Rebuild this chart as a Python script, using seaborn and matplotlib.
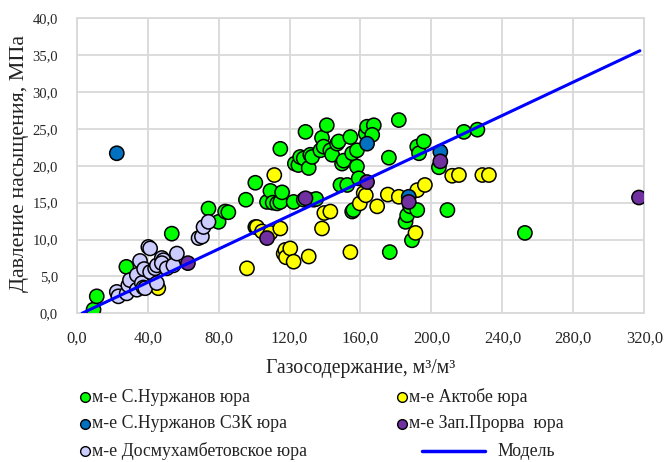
import matplotlib
matplotlib.use("Agg")
import matplotlib.pyplot as plt
from matplotlib.lines import Line2D
import seaborn as sns
import pandas as pd

# ---- data ----
green_x = [9.5, 11.3, 28, 53.6, 74.3, 80, 83.7, 85.5, 95.4, 100.7, 100.7, 107.3, 109.2, 110.5, 113,
           114.8, 115.8, 114.8, 122.3, 123, 125, 126, 128, 128, 129, 130.8, 131.7, 132.7, 133.6, 135,
           137.4, 138.3, 139.2, 141, 143, 144, 146.8, 147.7, 148.7, 149.6, 150.5, 152.5, 154.3, 155.3,
           155.3, 156, 158, 158, 159, 163, 163.7, 167.5, 166.6, 176, 176.5, 181.6, 185.4, 186.3, 188,
           189, 192, 192, 193, 195.7, 204.2, 209, 218.3, 225.9, 252.7]
green_y = [0.5, 2.3, 6.3, 10.8, 14.2, 12.4, 13.8, 13.7, 15.4, 17.7, 11.7, 15.1, 16.6, 15.0, 14.9,
           15.1, 16.4, 22.3, 15.1, 20.3, 20.1, 21.2, 21.0, 15.4, 24.6, 19.7, 21.5, 21.2, 15.4, 15.5,
           22.1, 23.8, 22.6, 25.5, 22.1, 21.5, 23.0, 23.3, 17.4, 20.3, 20.7, 17.4, 23.9, 21.7,
           13.8, 14.0, 22.1, 19.9, 18.3, 24.4, 25.3, 25.5, 24.2, 21.1, 8.3, 26.2, 12.4, 13.3, 14.5,
           9.9, 14.0, 22.6, 21.7, 23.3, 19.8, 14.0, 24.6, 24.9, 10.9]

yellow_x = [44, 46, 96, 101.6, 104.5, 109.2, 111.4, 114.8, 116.7, 117.6, 118, 120.4, 122.3, 130.8,
            138.3, 139.6, 143, 154.3, 159.6, 161.8, 163, 169.4, 175.4, 181.6, 191, 192, 196.3,
            211.7, 215.5, 228.7, 232.4]
yellow_y = [4.0, 3.4, 6.1, 11.7, 11.1, 10.9, 18.75, 11.5, 8.1, 8.6, 7.6, 8.8, 7.0, 7.7,
            11.5, 13.6, 13.8, 8.3, 14.9, 16.3, 16.0, 14.5, 16.1, 15.8, 10.9, 16.7, 17.4,
            18.65, 18.75, 18.75, 18.75]

blue_x = [22.6, 163.7, 205, 187.2]
blue_y = [21.7, 23.0, 21.9, 15.8]

purple_x = [62.7, 107.3, 129, 163.7, 205, 187.2, 317]
purple_y = [6.8, 10.2, 15.6, 17.8, 20.6, 15.1, 15.7]

lav_x = [22.6, 23.5, 28.2, 29.1, 30, 33.9, 33.9, 35.7, 36.7, 37.6, 38.6, 38, 40.4, 41.4, 41.4, 44.2,
         45.2, 45.2, 48, 48.9, 48, 50.8, 54.5, 56.5, 68.7, 70.6, 71.5, 74.3]
lav_y = [2.9, 2.3, 2.7, 3.8, 4.5, 3.2, 5.2, 7.1, 4.1, 3.5, 3.4, 6.0, 9.0, 8.8, 5.6, 6.1,
         4.1, 6.5, 7.5, 7.2, 6.8, 6.1, 6.5, 8.1, 10.2, 10.4, 11.7, 12.4]

model_x = [3, 317.5]
model_y = [0.0, 35.6]

series_names = ["м-е С.Нуржанов юра", "м-е Актобе юра", "м-е С.Нуржанов СЗК юра",
                "м-е Зап.Прорва  юра", "м-е Досмухамбетовское юра"]
series_colors = ["#00FF00", "#FFFF00", "#0070C0", "#7030A0", "#CCCCFF"]
model_name = "Модель"

x_ticks = [0, 40, 80, 120, 160, 200, 240, 280, 320]
y_ticks = [0, 5, 10, 15, 20, 25, 30, 35, 40]
x_label = "Газосодержание, м³/м³"
y_label = "Давление насыщения, МПа"

# ---- build frame ----
xs = [green_x, yellow_x, blue_x, purple_x, lav_x]
ys = [green_y, yellow_y, blue_y, purple_y, lav_y]
frames = [pd.DataFrame({"x": a, "y": b, "s": n}) for a, b, n in zip(xs, ys, series_names)]
df = pd.concat(frames, ignore_index=True)

sns.set_theme(style="white")
plt.rcParams["font.family"] = ["Liberation Serif", "DejaVu Serif"]

W, H = 666, 462
fig = plt.figure(figsize=(W / 100, H / 100), dpi=100)
ax = fig.add_axes([76.7 / W, 1 - 313.3 / H, (644.3 - 76.7) / W, (313.3 - 18.3) / H])

sns.scatterplot(data=df, x="x", y="y", hue="s", hue_order=series_names,
                palette=dict(zip(series_names, series_colors)), s=105,
                edgecolor="black", linewidth=1.1, legend=False, ax=ax, zorder=3)
sns.lineplot(x=model_x, y=model_y, color="#0000FF", linewidth=2.2, ax=ax, zorder=4)

ax.set_xlabel("")
ax.set_ylabel("")
ax.set_xlim(0, 320)
ax.set_ylim(0, 40)
ax.set_xticks(x_ticks)
ax.set_yticks(y_ticks)
ax.set_xticklabels([f"{v:.1f}".replace(".", ",") for v in x_ticks], fontsize=12)
ax.set_yticklabels([f"{v:.1f}".replace(".", ",") for v in y_ticks], fontsize=10.5)
ax.tick_params(axis="x", length=0, pad=12.5)
ax.tick_params(axis="y", length=0, pad=13.5)
ax.grid(True, color="#D9D9D9", linewidth=1.3, zorder=0)
ax.set_axisbelow(True)
for sp in ax.spines.values():
    sp.set_color("#D9D9D9")
    sp.set_linewidth(1.3)

def fx(px):
    return px / W

def fy(py):
    return 1 - py / H

renderer = fig.canvas.get_renderer()

def fit(t, target, vertical=False):
    bb = t.get_window_extent(renderer)
    cur = bb.height if vertical else bb.width
    t.set_fontsize(t.get_fontsize() * target / cur)

xl = fig.text(fx(361), fy(368), x_label, ha="center", va="center", fontsize=14, color="#222222")
fit(xl, 190)
yl = fig.text(fx(20), fy(163), y_label, ha="center", va="center", rotation=90, fontsize=15,
              color="#222222")
fit(yl, 258, vertical=True)

rows = [397, 424, 451]
left_entries = [(0, rows[0]), (2, rows[1]), (4, rows[2])]
right_entries = [(1, rows[0]), (3, rows[1])]
leg_texts = []
for idx, ry in left_entries:
    fig.add_artist(Line2D([fx(85)], [fy(ry)], marker="o", linestyle="none",
                          markerfacecolor=series_colors[idx], markeredgecolor="black",
                          markeredgewidth=1.0, markersize=7, transform=fig.transFigure))
    leg_texts.append(fig.text(fx(92), fy(ry), series_names[idx], ha="left", va="center",
                              fontsize=13, color="#222222"))
for idx, ry in right_entries:
    fig.add_artist(Line2D([fx(402)], [fy(ry)], marker="o", linestyle="none",
                          markerfacecolor=series_colors[idx], markeredgecolor="black",
                          markeredgewidth=1.0, markersize=7, transform=fig.transFigure))
    leg_texts.append(fig.text(fx(409), fy(ry), series_names[idx], ha="left", va="center",
                              fontsize=13, color="#222222"))
fig.add_artist(Line2D([fx(422), fx(485)], [fy(rows[2]), fy(rows[2])], color="#0000FF",
                      linewidth=2.5, transform=fig.transFigure))
leg_texts.append(fig.text(fx(497), fy(rows[2]), model_name, ha="left", va="center",
                          fontsize=13, color="#222222"))
fit(leg_texts[0], 156)
for t in leg_texts[1:]:
    t.set_fontsize(leg_texts[0].get_fontsize())

fig.savefig("out.png", dpi=100)
